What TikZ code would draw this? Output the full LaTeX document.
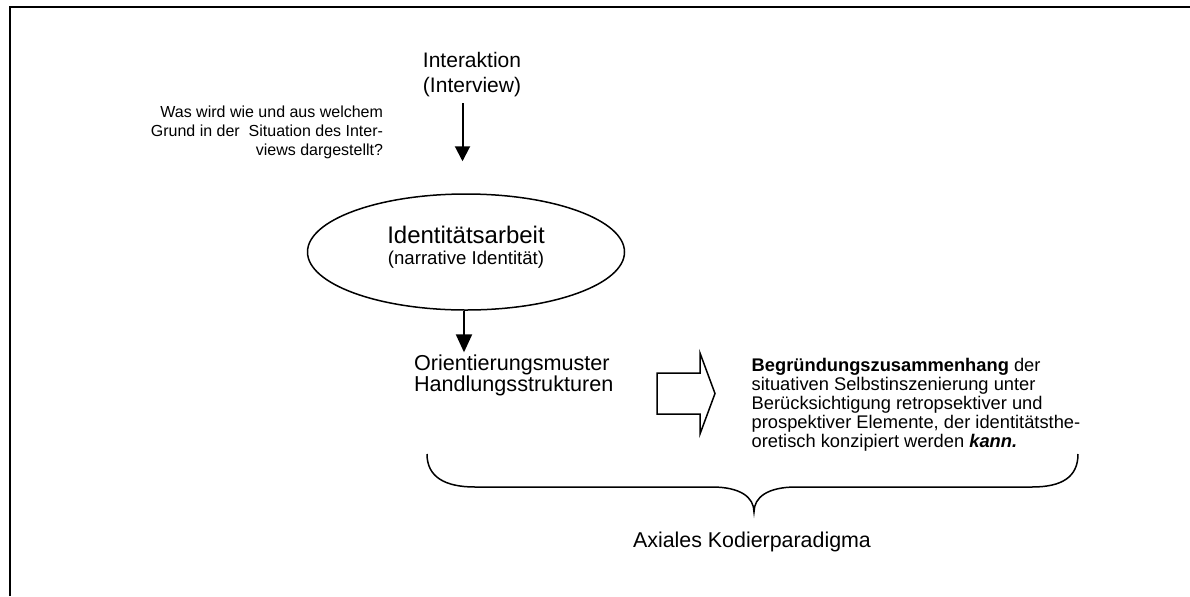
\documentclass[tikz,border=0pt]{standalone}
\usepackage{fontspec}
\setmainfont{Liberation Sans}
\usetikzlibrary{arrows.meta,shapes.geometric,calc}
\begin{document}
\begin{tikzpicture}[x=0.5pt,y=-0.5pt,
  txt/.style={inner sep=0pt, outer sep=0pt},
  flow/.style={line width=1pt, -{Triangle[width=7.5pt,length=7.5pt]}},
  flowbig/.style={line width=1pt, -{Triangle[width=8pt,length=9pt]}},
  outline/.style={line width=0.75pt, line join=miter}]
\useasboundingbox (0,0) rectangle (1190,596);
% page frame (open to the right and bottom)
\draw[line width=1pt] (9.5,596) -- (9.5,6.5) -- (1190,6.5);

% texts (the base anchor sits on the last line)
\node[txt, anchor=base, align=center, font=\fontsize{10.5}{12.5}\selectfont]
  (inter) at (472,92) {Interaktion\\(Interview)};
\node[txt, anchor=base east, align=right, font=\fontsize{8}{9.5}\selectfont]
  (frage) at (383,155.3) {Was wird wie und aus welchem\\Grund in der~ Situation des Inter-\\views dargestellt?};

\node[draw, ellipse, outline, minimum width=158.5pt, minimum height=58pt, inner sep=0pt]
  (ident) at (466,252) {};
\node[txt, anchor=base, align=center, font=\fontsize{9.3}{10.5}\selectfont]
  (identtext) at (466,264) {{\fontsize{12}{10.5}\selectfont Identitätsarbeit}\\(narrative Identität)};

\node[txt, anchor=base west, align=left, font=\fontsize{10.8}{10.75}\selectfont]
  (orient) at (414,391.5) {Orientierungsmuster\\Handlungsstrukturen};

\node[txt, anchor=base west, align=left, font=\fontsize{9.15}{9.5}\selectfont]
  (begr) at (751.7,447) {\textbf{Begründungszusammenhang} der\\situativen Selbstinszenierung unter\\Berücksichtigung retropsektiver und\\prospektiver Elemente, der identitätsthe-\\oretisch konzipiert werden \textbf{\textit{kann.}}};

\node[txt, anchor=base, font=\fontsize{10.7}{12}\selectfont]
  (axial) at (752,547) {Axiales Kodierparadigma};

% connectors
\draw[flow] ($(inter.south)+(-9.5,7)$) -- ($(ident.north)+(-3.5,-32)$);
\draw[flowbig] ($(ident.south)+(-2,0)$) -- ($(orient.north west)+(50,-2)$);

% block arrow between the two text blocks
\draw[outline] (657,373) -- (700,373) -- (700,353) -- (715,393.5) -- (700,434)
  -- (700,414) -- (657,414) -- cycle;

% curly brace over the lower row
\draw[outline] (427,454) .. controls (427,477) and (445,487) .. (475,487)
  -- (712,487) .. controls (740,487) and (754,497) .. (754,512)
  .. controls (754,497) and (768,487) .. (796,487)
  -- (1032,487) .. controls (1062,487) and (1078,477) .. (1078,454);
\end{tikzpicture}
\end{document}
